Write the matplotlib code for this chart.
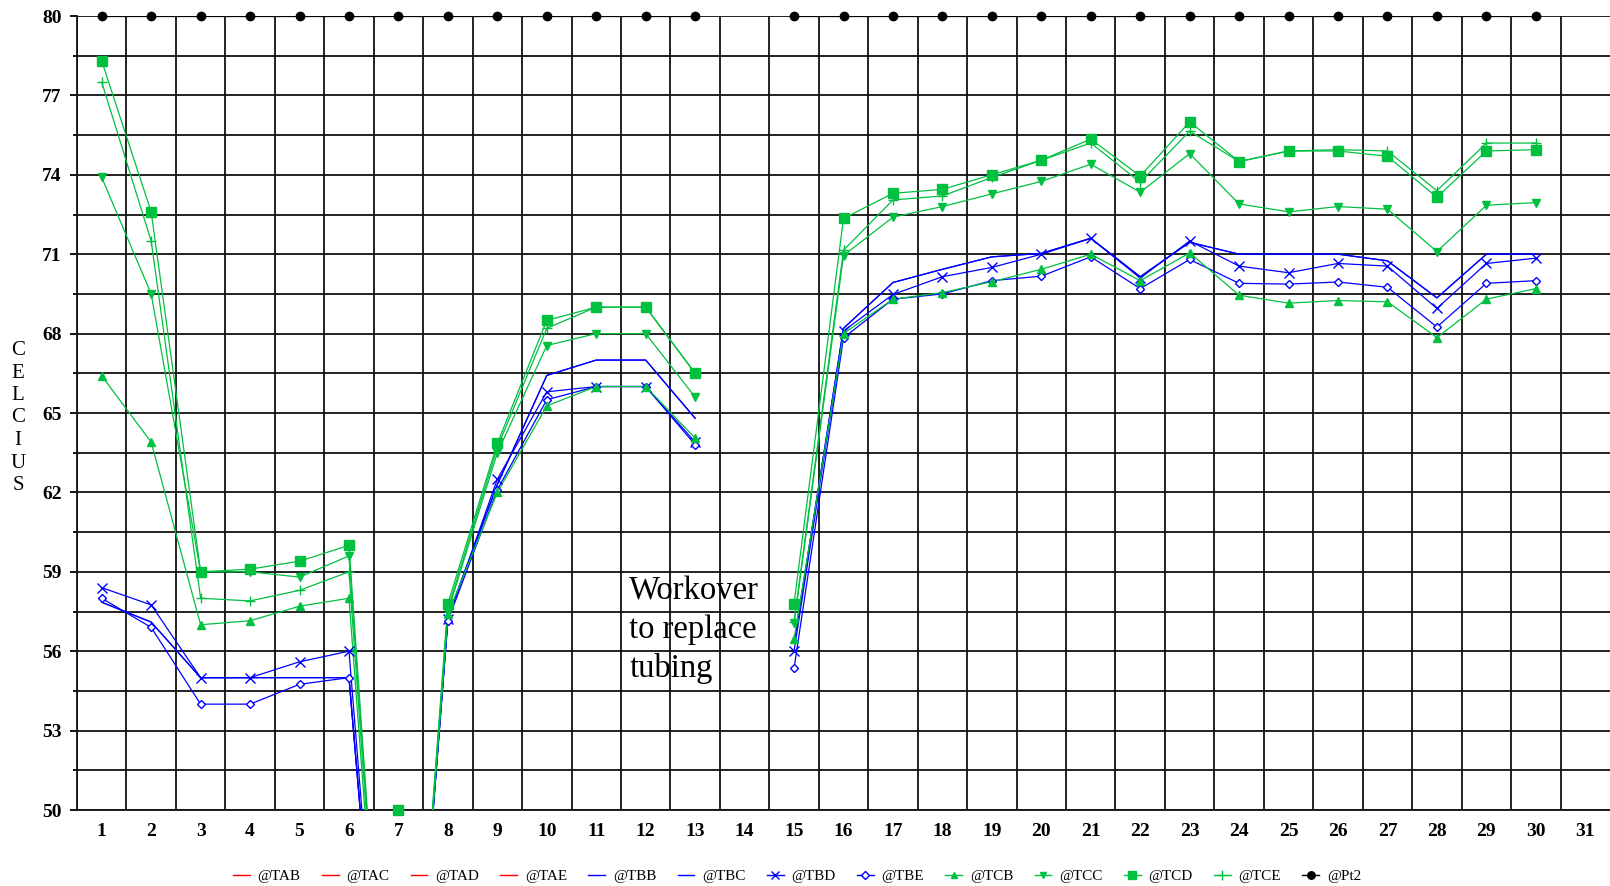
import numpy as np
import matplotlib
matplotlib.use("Agg")
import matplotlib.pyplot as plt
from matplotlib.lines import Line2D
from matplotlib.ticker import FixedLocator

nan = np.nan

# ---------------- data ----------------
days = list(range(1, 31))
x_tick_labels = [str(d) for d in range(1, 32)]
y_ticks = [50, 53, 56, 59, 62, 65, 68, 71, 74, 77, 80]

TAB = []
TAC = []
TAD = []
TAE = []
TBB = [57.85, 57.1, 55.0, 55.0, 55.0, 55.0, 33, 57.3, 62.3, 66.42, 67.0, 67.0, 64.8, nan, 56.3,
       68.2, 69.93, 70.43, 70.9, 71.03, 71.6, 70.15, 71.45, 71.0, 71.0, 71.0, 70.75, 69.35, 71.0, 71.0]
TBC = [57.85, 57.1, 55.0, 55.0, 55.0, 55.0, 33, 57.3, 62.3, 66.42, 67.0, 67.0, 64.8, nan, 56.3,
       68.2, 69.93, 70.43, 70.9, 71.03, 71.6, 70.15, 71.45, 71.0, 71.0, 71.0, 70.75, 69.35, 71.0, 71.0]
TBD = [58.4, 57.75, 55.0, 55.0, 55.6, 56.0, 33, 57.2, 62.5, 65.8, 66.0, 66.0, 63.9, nan, 56.0,
       68.1, 69.48, 70.15, 70.5, 71.0, 71.6, 70.1, 71.5, 70.55, 70.3, 70.65, 70.55, 68.95, 70.65, 70.85]
TBE = [58.0, 56.9, 54.0, 54.0, 54.75, 55.0, 33, 57.15, 62.1, 65.5, 66.0, 66.0, 63.8, nan, 55.35,
       67.84, 69.3, 69.5, 70.0, 70.17, 70.9, 69.7, 70.8, 69.9, 69.87, 69.95, 69.75, 68.25, 69.9, 70.0]
TCB = [66.4, 63.9, 57.0, 57.15, 57.7, 58.0, 33, 57.4, 62.0, 65.27, 66.0, 66.0, 64.05, nan, 56.45,
       68.0, 69.3, 69.55, 69.96, 70.43, 71.0, 70.0, 71.05, 69.45, 69.15, 69.25, 69.2, 67.85, 69.3, 69.7]
TCC = [73.9, 69.5, 59.0, 59.0, 58.8, 59.6, 33, 57.5, 63.5, 67.55, 68.0, 68.0, 65.6, nan, 57.05,
       70.95, 72.4, 72.8, 73.28, 73.75, 74.4, 73.34, 74.8, 72.9, 72.6, 72.8, 72.7, 71.1, 72.85, 72.95]
TCD = [78.3, 72.6, 59.0, 59.1, 59.4, 60.0, 33, 57.8, 63.85, 68.5, 69.0, 69.0, 66.5, nan, 57.8,
       72.35, 73.3, 73.45, 74.0, 74.55, 75.35, 73.95, 76.0, 74.5, 74.9, 74.9, 74.7, 73.15, 74.9, 74.95]
TCE = [77.5, 71.5, 58.0, 57.9, 58.3, 59.0, 33, 57.6, 63.7, 68.2, 69.0, 69.0, 66.5, nan, 57.1,
       71.15, 73.05, 73.2, 73.9, 74.55, 75.2, 73.72, 75.65, 74.5, 74.9, 74.95, 74.9, 73.4, 75.2, 75.2]
Pt2 = [80, 80, 80, 80, 80, 80, 80, 80, 80, 80, 80, 80, 80, nan, 80,
       80, 80, 80, 80, 80, 80, 80, 80, 80, 80, 80, 80, 80, 80, 80]

RED, BLUE, GREEN, BLACK = "#FF0000", "#0000FF", "#00C040", "#000000"

# name, values, color, marker, markersize, facecolor
series = [
    ("@TAB", TAB, RED, None, 0, None),
    ("@TAC", TAC, RED, None, 0, None),
    ("@TAD", TAD, RED, None, 0, None),
    ("@TAE", TAE, RED, None, 0, None),
    ("@TBB", TBB, BLUE, None, 0, None),
    ("@TBC", TBC, BLUE, None, 0, None),
    ("@TBD", TBD, BLUE, "x", 6.5, BLUE),
    ("@TBE", TBE, BLUE, "D", 4.5, "white"),
    ("@TCB", TCB, GREEN, "^", 5.5, GREEN),
    ("@TCC", TCC, GREEN, "v", 5.5, GREEN),
    ("@TCD", TCD, GREEN, "s", 6.5, GREEN),
    ("@TCE", TCE, GREEN, "+", 7.5, GREEN),
    ("@Pt2", Pt2, BLACK, "o", 6, BLACK),
]

Y_MIN, Y_MAX = 50, 80

plt.rcParams["font.family"] = ["Liberation Serif", "DejaVu Serif"]

fig = plt.figure(figsize=(16.1, 8.86), dpi=100)
W, H = 1610, 886
ax = fig.add_axes([77 / W, 1 - 810 / H, (W - 77) / W, (810 - 16) / H])

handles = []
for name, vals, color, marker, ms, mfc in series:
    y = np.array(vals, dtype=float)
    x = np.array(days[:len(y)], dtype=float)
    ax.plot(x, y, color=color, lw=0.9, zorder=3)
    if marker is not None and len(y):
        ax.plot(x, np.clip(y, Y_MIN, Y_MAX), ls="none", marker=marker, ms=ms,
                color=color, mfc=mfc, mec=color, mew=1.0, clip_on=False, zorder=4)
    handles.append(Line2D([], [], color=color, lw=1.0, marker=marker, ms=ms * 0.9 if marker else 0,
                          mfc=mfc, mec=color, mew=1.0))

ax.set_xlim(0.5, 31.5)
ax.set_ylim(Y_MIN, Y_MAX)

ax.xaxis.set_major_locator(FixedLocator(list(range(1, 32))))
ax.set_xticklabels(x_tick_labels)
ax.xaxis.set_minor_locator(FixedLocator([d + 0.5 for d in range(0, 31)]))
ax.yaxis.set_major_locator(FixedLocator(y_ticks))
ax.yaxis.set_minor_locator(FixedLocator([v + 1.5 for v in y_ticks[:-1]]))

ax.set_axisbelow(True)
ax.grid(which="minor", axis="x", color="#111111", lw=1.3)
ax.grid(which="both", axis="y", color="#111111", lw=1.3)

ax.tick_params(axis="x", which="both", length=0, pad=9, labelsize=14)
ax.tick_params(axis="y", which="major", length=5, width=1.3, pad=6, labelsize=14, direction="out")
ax.tick_params(axis="y", which="minor", length=3, width=1.3, direction="out")
for lab in ax.get_xticklabels() + ax.get_yticklabels():
    lab.set_fontweight("bold")

for s in ("top", "right"):
    ax.spines[s].set_visible(False)
for s in ("left", "bottom"):
    ax.spines[s].set_linewidth(1.3)
    ax.spines[s].set_color("#111111")

fig.text(18 / W, 1 - 418 / H, "C\nE\nL\nC\nI\nU\nS", ha="center", va="center",
         fontsize=15, linespacing=1.25)

ax.text(11.67, 55.02, "Workover\nto replace\ntubing", ha="left", va="baseline",
        fontsize=23.5, linespacing=1.33, zorder=5)

fig.legend(handles, [s[0] for s in series], loc="center", ncol=13,
           bbox_to_anchor=(797 / W, 1 - 876 / H), frameon=False, fontsize=11,
           handlelength=1.1, handletextpad=0.5, columnspacing=1.4, numpoints=1,
           borderaxespad=0, borderpad=0)

fig.savefig("out.png", dpi=100)
